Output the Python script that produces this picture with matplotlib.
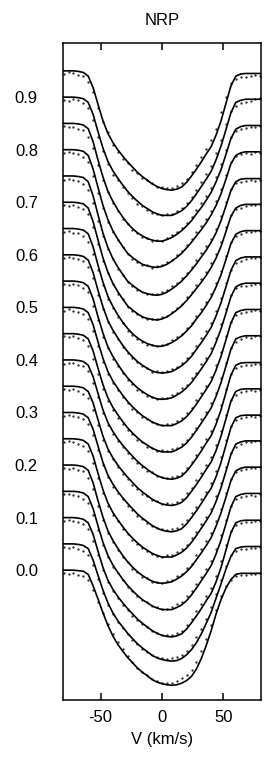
import matplotlib
matplotlib.use("Agg")
import matplotlib.pyplot as plt
import numpy as np

plt.rcParams["font.family"] = ["Liberation Sans", "DejaVu Sans"]

# radial velocity grid (km/s) shared by fits and observed points
VELOCITY = [-80, -76, -72, -68, -64, -60, -56, -52, -48, -44, -40, -36, -32, -28,
            -24, -20, -16, -12, -8, -4, 0, 4, 8, 12, 16, 20, 24, 28, 32, 36, 40,
            44, 48, 52, 56, 60, 64, 68, 72, 76, 80]

# pulsation phase = vertical offset of each profile's continuum
PHASES = [0.95, 0.90, 0.85, 0.80, 0.75, 0.70, 0.65, 0.60, 0.55, 0.50,
          0.45, 0.40, 0.35, 0.30, 0.25, 0.20, 0.15, 0.10, 0.05, 0.00]

YTICKS = [0.0, 0.1, 0.2, 0.3, 0.4, 0.5, 0.6, 0.7, 0.8, 0.9]
XTICKS = [-50, 0, 50]

# NRP model fits (normalised flux)
fit_95 = [1.000, 1.000, 1.000, 0.999, 0.997, 0.990, 0.968, 0.936, 0.905, 0.881, 0.864, 0.850, 0.838, 0.827, 0.817, 0.807, 0.799, 0.792, 0.785, 0.780, 0.776, 0.774, 0.773, 0.775, 0.779, 0.788, 0.800, 0.813, 0.827, 0.842, 0.856, 0.878, 0.905, 0.938, 0.971, 0.990, 0.994, 0.995, 0.995, 0.995, 0.995]
fit_90 = [1.000, 1.000, 1.000, 0.999, 0.997, 0.990, 0.967, 0.934, 0.903, 0.878, 0.860, 0.846, 0.833, 0.821, 0.811, 0.802, 0.794, 0.788, 0.782, 0.778, 0.775, 0.775, 0.775, 0.779, 0.784, 0.792, 0.803, 0.816, 0.830, 0.844, 0.859, 0.881, 0.907, 0.938, 0.970, 0.990, 0.994, 0.996, 0.996, 0.996, 0.996]
fit_85 = [1.000, 1.000, 1.000, 0.999, 0.997, 0.990, 0.965, 0.930, 0.898, 0.871, 0.852, 0.836, 0.822, 0.810, 0.800, 0.792, 0.786, 0.781, 0.778, 0.776, 0.776, 0.779, 0.783, 0.789, 0.796, 0.805, 0.815, 0.828, 0.840, 0.854, 0.869, 0.889, 0.912, 0.941, 0.971, 0.989, 0.994, 0.996, 0.996, 0.996, 0.996]
fit_80 = [1.000, 1.000, 1.000, 0.999, 0.997, 0.989, 0.963, 0.928, 0.894, 0.867, 0.846, 0.830, 0.816, 0.803, 0.795, 0.788, 0.782, 0.779, 0.777, 0.776, 0.778, 0.782, 0.788, 0.795, 0.803, 0.813, 0.824, 0.836, 0.848, 0.861, 0.876, 0.894, 0.916, 0.944, 0.973, 0.989, 0.994, 0.996, 0.996, 0.996, 0.996]
fit_75 = [1.000, 1.000, 1.000, 0.999, 0.997, 0.989, 0.962, 0.926, 0.891, 0.864, 0.843, 0.827, 0.813, 0.800, 0.792, 0.785, 0.779, 0.776, 0.774, 0.773, 0.775, 0.779, 0.785, 0.792, 0.800, 0.810, 0.821, 0.833, 0.846, 0.859, 0.874, 0.892, 0.915, 0.943, 0.972, 0.989, 0.994, 0.995, 0.995, 0.995, 0.995]
fit_70 = [1.000, 1.000, 1.000, 0.999, 0.997, 0.989, 0.963, 0.928, 0.894, 0.867, 0.846, 0.830, 0.816, 0.803, 0.795, 0.788, 0.782, 0.779, 0.777, 0.776, 0.778, 0.782, 0.788, 0.795, 0.803, 0.813, 0.824, 0.836, 0.848, 0.861, 0.876, 0.894, 0.916, 0.944, 0.973, 0.989, 0.994, 0.996, 0.996, 0.996, 0.996]
fit_65 = [1.000, 1.000, 1.000, 0.999, 0.997, 0.990, 0.965, 0.930, 0.898, 0.871, 0.852, 0.836, 0.822, 0.810, 0.800, 0.792, 0.786, 0.781, 0.778, 0.776, 0.776, 0.779, 0.783, 0.789, 0.796, 0.805, 0.815, 0.828, 0.840, 0.854, 0.869, 0.889, 0.912, 0.941, 0.971, 0.989, 0.994, 0.996, 0.996, 0.996, 0.996]
fit_60 = [1.000, 1.000, 1.000, 0.999, 0.997, 0.990, 0.966, 0.932, 0.901, 0.875, 0.857, 0.842, 0.828, 0.816, 0.806, 0.797, 0.790, 0.784, 0.779, 0.776, 0.775, 0.776, 0.778, 0.783, 0.789, 0.797, 0.807, 0.820, 0.833, 0.847, 0.862, 0.884, 0.909, 0.939, 0.970, 0.989, 0.994, 0.996, 0.996, 0.996, 0.996]
fit_55 = [1.000, 1.000, 1.000, 0.999, 0.997, 0.990, 0.966, 0.932, 0.901, 0.875, 0.857, 0.842, 0.828, 0.816, 0.806, 0.797, 0.790, 0.784, 0.779, 0.776, 0.775, 0.776, 0.778, 0.783, 0.789, 0.797, 0.807, 0.820, 0.833, 0.847, 0.862, 0.884, 0.909, 0.939, 0.970, 0.989, 0.994, 0.996, 0.996, 0.996, 0.996]
fit_50 = [1.000, 1.000, 1.000, 0.999, 0.997, 0.990, 0.967, 0.934, 0.903, 0.878, 0.860, 0.846, 0.833, 0.821, 0.811, 0.802, 0.794, 0.788, 0.782, 0.778, 0.775, 0.775, 0.775, 0.779, 0.784, 0.792, 0.803, 0.816, 0.830, 0.844, 0.859, 0.881, 0.907, 0.938, 0.970, 0.990, 0.994, 0.996, 0.996, 0.996, 0.996]
fit_45 = [1.000, 1.000, 1.000, 0.999, 0.997, 0.990, 0.967, 0.934, 0.903, 0.878, 0.860, 0.846, 0.833, 0.821, 0.811, 0.802, 0.794, 0.788, 0.782, 0.778, 0.775, 0.775, 0.775, 0.779, 0.784, 0.792, 0.803, 0.816, 0.830, 0.844, 0.859, 0.881, 0.907, 0.938, 0.970, 0.990, 0.994, 0.996, 0.996, 0.996, 0.996]
fit_40 = [1.000, 1.000, 1.000, 0.999, 0.997, 0.990, 0.968, 0.936, 0.905, 0.881, 0.864, 0.850, 0.838, 0.827, 0.817, 0.807, 0.799, 0.792, 0.785, 0.780, 0.776, 0.774, 0.773, 0.775, 0.779, 0.788, 0.800, 0.813, 0.827, 0.842, 0.856, 0.878, 0.905, 0.938, 0.971, 0.990, 0.994, 0.995, 0.995, 0.995, 0.995]
fit_35 = [1.000, 1.000, 1.000, 0.999, 0.997, 0.990, 0.968, 0.936, 0.905, 0.881, 0.864, 0.850, 0.838, 0.827, 0.817, 0.807, 0.799, 0.792, 0.785, 0.780, 0.776, 0.774, 0.773, 0.775, 0.779, 0.788, 0.800, 0.813, 0.827, 0.842, 0.856, 0.878, 0.905, 0.938, 0.971, 0.990, 0.994, 0.995, 0.995, 0.995, 0.995]
fit_30 = [1.000, 1.000, 1.000, 0.999, 0.997, 0.990, 0.968, 0.936, 0.905, 0.881, 0.864, 0.850, 0.838, 0.827, 0.817, 0.807, 0.799, 0.792, 0.785, 0.780, 0.776, 0.774, 0.773, 0.775, 0.779, 0.788, 0.800, 0.813, 0.827, 0.842, 0.856, 0.878, 0.905, 0.938, 0.971, 0.990, 0.994, 0.995, 0.995, 0.995, 0.995]
fit_25 = [1.000, 1.000, 1.000, 0.999, 0.997, 0.990, 0.967, 0.934, 0.903, 0.878, 0.860, 0.846, 0.833, 0.821, 0.811, 0.802, 0.794, 0.788, 0.782, 0.778, 0.775, 0.775, 0.775, 0.779, 0.784, 0.792, 0.803, 0.816, 0.830, 0.844, 0.859, 0.881, 0.907, 0.938, 0.970, 0.990, 0.994, 0.996, 0.996, 0.996, 0.996]
fit_20 = [1.000, 1.000, 1.000, 0.999, 0.997, 0.990, 0.966, 0.932, 0.901, 0.875, 0.857, 0.842, 0.828, 0.816, 0.806, 0.797, 0.790, 0.784, 0.779, 0.776, 0.775, 0.776, 0.778, 0.783, 0.789, 0.797, 0.807, 0.820, 0.833, 0.847, 0.862, 0.884, 0.909, 0.939, 0.970, 0.989, 0.994, 0.996, 0.996, 0.996, 0.996]
fit_15 = [1.000, 1.000, 1.000, 0.999, 0.997, 0.990, 0.967, 0.934, 0.903, 0.878, 0.860, 0.846, 0.833, 0.821, 0.811, 0.802, 0.794, 0.788, 0.782, 0.778, 0.775, 0.775, 0.775, 0.779, 0.784, 0.792, 0.803, 0.816, 0.830, 0.844, 0.859, 0.881, 0.907, 0.938, 0.970, 0.990, 0.994, 0.996, 0.996, 0.996, 0.996]
fit_10 = [1.000, 1.000, 1.000, 0.999, 0.997, 0.990, 0.968, 0.936, 0.905, 0.881, 0.864, 0.850, 0.838, 0.827, 0.817, 0.807, 0.799, 0.792, 0.785, 0.780, 0.776, 0.774, 0.773, 0.775, 0.779, 0.788, 0.800, 0.813, 0.827, 0.842, 0.856, 0.878, 0.905, 0.938, 0.971, 0.990, 0.994, 0.995, 0.995, 0.995, 0.995]
fit_05 = [1.000, 1.000, 1.000, 0.999, 0.997, 0.991, 0.969, 0.940, 0.912, 0.888, 0.869, 0.854, 0.842, 0.830, 0.820, 0.810, 0.802, 0.795, 0.788, 0.783, 0.780, 0.778, 0.777, 0.778, 0.782, 0.789, 0.799, 0.812, 0.829, 0.849, 0.870, 0.897, 0.924, 0.952, 0.976, 0.991, 0.994, 0.995, 0.995, 0.995, 0.995]
fit_00 = [1.000, 1.000, 1.000, 0.999, 0.998, 0.992, 0.970, 0.945, 0.919, 0.895, 0.875, 0.859, 0.846, 0.834, 0.824, 0.814, 0.806, 0.799, 0.792, 0.787, 0.784, 0.782, 0.781, 0.782, 0.785, 0.790, 0.798, 0.812, 0.832, 0.857, 0.885, 0.917, 0.944, 0.966, 0.982, 0.992, 0.994, 0.994, 0.994, 0.994, 0.994]

# observed line profiles (normalised flux)
obs_95 = [0.994, 0.997, 0.996, 0.993, 0.990, 0.978, 0.960, 0.930, 0.903, 0.883, 0.858, 0.846, 0.833, 0.825, 0.812, 0.806, 0.796, 0.793, 0.787, 0.779, 0.779, 0.778, 0.777, 0.781, 0.786, 0.795, 0.808, 0.821, 0.836, 0.851, 0.868, 0.890, 0.921, 0.951, 0.976, 0.984, 0.988, 0.989, 0.990, 0.993, 0.991]
obs_90 = [0.995, 0.993, 0.996, 0.994, 0.989, 0.980, 0.957, 0.925, 0.898, 0.873, 0.852, 0.843, 0.829, 0.818, 0.808, 0.797, 0.792, 0.786, 0.780, 0.777, 0.776, 0.778, 0.777, 0.783, 0.789, 0.799, 0.810, 0.823, 0.838, 0.853, 0.869, 0.894, 0.918, 0.948, 0.973, 0.983, 0.988, 0.991, 0.993, 0.996, 0.999]
obs_85 = [0.996, 0.993, 0.994, 0.990, 0.987, 0.975, 0.953, 0.920, 0.892, 0.869, 0.849, 0.834, 0.818, 0.808, 0.797, 0.791, 0.784, 0.782, 0.776, 0.779, 0.777, 0.782, 0.787, 0.793, 0.801, 0.810, 0.822, 0.835, 0.848, 0.862, 0.878, 0.899, 0.923, 0.950, 0.975, 0.985, 0.990, 0.992, 0.994, 0.993, 0.995]
obs_80 = [0.994, 0.996, 0.993, 0.992, 0.986, 0.976, 0.950, 0.918, 0.890, 0.862, 0.843, 0.828, 0.814, 0.802, 0.792, 0.786, 0.780, 0.780, 0.775, 0.778, 0.780, 0.786, 0.791, 0.799, 0.808, 0.818, 0.830, 0.843, 0.855, 0.869, 0.883, 0.902, 0.925, 0.952, 0.977, 0.988, 0.991, 0.993, 0.992, 0.995, 0.994]
obs_75 = [0.993, 0.995, 0.992, 0.990, 0.985, 0.974, 0.948, 0.915, 0.886, 0.861, 0.842, 0.823, 0.811, 0.798, 0.790, 0.783, 0.779, 0.775, 0.776, 0.775, 0.779, 0.783, 0.790, 0.797, 0.806, 0.816, 0.827, 0.840, 0.853, 0.866, 0.881, 0.900, 0.924, 0.950, 0.976, 0.986, 0.989, 0.990, 0.992, 0.991, 0.993]
obs_70 = [0.995, 0.993, 0.995, 0.991, 0.988, 0.977, 0.952, 0.921, 0.889, 0.865, 0.844, 0.826, 0.815, 0.801, 0.793, 0.787, 0.781, 0.777, 0.778, 0.777, 0.781, 0.784, 0.792, 0.798, 0.807, 0.819, 0.829, 0.842, 0.854, 0.867, 0.884, 0.901, 0.924, 0.953, 0.976, 0.987, 0.990, 0.993, 0.995, 0.994, 0.996]
obs_65 = [0.994, 0.995, 0.992, 0.991, 0.986, 0.975, 0.951, 0.922, 0.893, 0.866, 0.849, 0.831, 0.820, 0.806, 0.798, 0.789, 0.785, 0.779, 0.779, 0.777, 0.779, 0.781, 0.787, 0.793, 0.800, 0.811, 0.820, 0.834, 0.846, 0.860, 0.876, 0.897, 0.920, 0.948, 0.974, 0.986, 0.990, 0.993, 0.994, 0.996, 0.995]
obs_60 = [0.993, 0.995, 0.994, 0.992, 0.988, 0.977, 0.955, 0.924, 0.896, 0.872, 0.853, 0.840, 0.824, 0.814, 0.803, 0.796, 0.788, 0.785, 0.777, 0.778, 0.777, 0.779, 0.782, 0.787, 0.795, 0.803, 0.814, 0.827, 0.841, 0.855, 0.871, 0.893, 0.918, 0.946, 0.972, 0.985, 0.989, 0.992, 0.994, 0.993, 0.996]
obs_55 = [0.995, 0.992, 0.995, 0.993, 0.987, 0.979, 0.953, 0.926, 0.894, 0.873, 0.851, 0.838, 0.826, 0.811, 0.804, 0.793, 0.789, 0.781, 0.780, 0.775, 0.778, 0.778, 0.784, 0.788, 0.796, 0.802, 0.815, 0.826, 0.842, 0.854, 0.872, 0.891, 0.919, 0.947, 0.974, 0.986, 0.991, 0.990, 0.993, 0.995, 0.994]
obs_50 = [0.994, 0.996, 0.993, 0.991, 0.988, 0.978, 0.956, 0.926, 0.897, 0.874, 0.856, 0.842, 0.830, 0.819, 0.807, 0.800, 0.791, 0.787, 0.781, 0.779, 0.777, 0.778, 0.779, 0.784, 0.790, 0.799, 0.809, 0.823, 0.837, 0.851, 0.867, 0.890, 0.915, 0.945, 0.972, 0.986, 0.990, 0.992, 0.994, 0.995, 0.993]
obs_45 = [0.995, 0.994, 0.996, 0.992, 0.987, 0.976, 0.952, 0.923, 0.895, 0.871, 0.855, 0.840, 0.829, 0.816, 0.809, 0.798, 0.793, 0.785, 0.783, 0.777, 0.778, 0.776, 0.780, 0.783, 0.791, 0.797, 0.810, 0.821, 0.838, 0.850, 0.868, 0.888, 0.916, 0.944, 0.973, 0.985, 0.989, 0.993, 0.992, 0.995, 0.996]
obs_40 = [0.993, 0.995, 0.994, 0.990, 0.988, 0.979, 0.957, 0.929, 0.899, 0.877, 0.860, 0.845, 0.834, 0.822, 0.814, 0.803, 0.797, 0.789, 0.786, 0.779, 0.778, 0.775, 0.777, 0.779, 0.785, 0.794, 0.806, 0.819, 0.834, 0.849, 0.864, 0.887, 0.914, 0.945, 0.973, 0.985, 0.988, 0.991, 0.990, 0.993, 0.992]
obs_35 = [0.995, 0.993, 0.995, 0.991, 0.986, 0.977, 0.955, 0.927, 0.898, 0.876, 0.861, 0.846, 0.833, 0.824, 0.813, 0.805, 0.795, 0.791, 0.783, 0.781, 0.776, 0.777, 0.776, 0.780, 0.786, 0.796, 0.807, 0.821, 0.835, 0.850, 0.866, 0.889, 0.915, 0.946, 0.974, 0.984, 0.989, 0.990, 0.992, 0.991, 0.993]
obs_30 = [0.994, 0.996, 0.993, 0.992, 0.988, 0.978, 0.958, 0.928, 0.901, 0.878, 0.859, 0.847, 0.835, 0.823, 0.815, 0.804, 0.798, 0.790, 0.784, 0.780, 0.778, 0.776, 0.778, 0.781, 0.787, 0.795, 0.808, 0.820, 0.836, 0.849, 0.865, 0.888, 0.916, 0.947, 0.974, 0.986, 0.990, 0.991, 0.993, 0.992, 0.994]
obs_25 = [0.993, 0.995, 0.994, 0.991, 0.987, 0.977, 0.954, 0.925, 0.896, 0.873, 0.855, 0.843, 0.828, 0.818, 0.808, 0.799, 0.792, 0.786, 0.781, 0.777, 0.776, 0.779, 0.778, 0.784, 0.790, 0.798, 0.811, 0.822, 0.838, 0.852, 0.867, 0.891, 0.916, 0.946, 0.972, 0.985, 0.990, 0.993, 0.994, 0.996, 0.995]
obs_20 = [0.994, 0.993, 0.995, 0.990, 0.988, 0.976, 0.954, 0.923, 0.895, 0.870, 0.854, 0.839, 0.825, 0.815, 0.803, 0.796, 0.787, 0.785, 0.778, 0.778, 0.776, 0.779, 0.781, 0.788, 0.793, 0.804, 0.812, 0.828, 0.840, 0.856, 0.870, 0.894, 0.917, 0.947, 0.973, 0.986, 0.990, 0.992, 0.995, 0.994, 0.996]
obs_15 = [0.995, 0.994, 0.993, 0.992, 0.986, 0.978, 0.955, 0.927, 0.898, 0.875, 0.856, 0.844, 0.831, 0.818, 0.810, 0.800, 0.793, 0.789, 0.781, 0.779, 0.777, 0.777, 0.779, 0.785, 0.789, 0.800, 0.810, 0.824, 0.837, 0.853, 0.868, 0.890, 0.917, 0.945, 0.973, 0.985, 0.989, 0.992, 0.993, 0.992, 0.995]
obs_10 = [0.993, 0.995, 0.994, 0.991, 0.987, 0.978, 0.956, 0.928, 0.900, 0.878, 0.860, 0.848, 0.834, 0.825, 0.813, 0.805, 0.797, 0.791, 0.785, 0.781, 0.777, 0.777, 0.776, 0.781, 0.785, 0.796, 0.807, 0.822, 0.835, 0.851, 0.866, 0.889, 0.917, 0.947, 0.975, 0.986, 0.989, 0.991, 0.992, 0.994, 0.993]
obs_05 = [0.994, 0.992, 0.995, 0.991, 0.987, 0.979, 0.959, 0.933, 0.906, 0.884, 0.866, 0.851, 0.840, 0.829, 0.817, 0.809, 0.800, 0.795, 0.789, 0.784, 0.782, 0.781, 0.782, 0.784, 0.789, 0.797, 0.808, 0.822, 0.839, 0.858, 0.879, 0.905, 0.931, 0.957, 0.978, 0.986, 0.990, 0.991, 0.993, 0.992, 0.994]
obs_00 = [0.995, 0.993, 0.994, 0.990, 0.988, 0.981, 0.962, 0.940, 0.918, 0.897, 0.878, 0.863, 0.850, 0.836, 0.826, 0.813, 0.806, 0.800, 0.793, 0.789, 0.786, 0.785, 0.786, 0.789, 0.794, 0.801, 0.811, 0.826, 0.846, 0.869, 0.896, 0.924, 0.950, 0.969, 0.982, 0.988, 0.990, 0.991, 0.993, 0.992, 0.994]

FITS = [fit_95, fit_90, fit_85, fit_80, fit_75, fit_70, fit_65, fit_60, fit_55, fit_50,
        fit_45, fit_40, fit_35, fit_30, fit_25, fit_20, fit_15, fit_10, fit_05, fit_00]
OBSERVED = [obs_95, obs_90, obs_85, obs_80, obs_75, obs_70, obs_65, obs_60, obs_55, obs_50,
            obs_45, obs_40, obs_35, obs_30, obs_25, obs_20, obs_15, obs_10, obs_05, obs_00]

fig = plt.figure(figsize=(2.65, 7.57), dpi=100)
ax = fig.add_axes([0.2377, 0.0753, 0.7472, 0.8679])

v = np.array(VELOCITY)
for phase, fit, obs in zip(PHASES, FITS, OBSERVED):
    # each profile is shifted so that its continuum sits at its phase
    ax.plot(v, np.array(obs) - 1 + phase, "o", ms=1.7, color="0.2", mec="none")
    ax.plot(v, np.array(fit) - 1 + phase, "-", color="black", lw=1.2)

ax.set_xlim(-80.5, 80.5)
ax.set_ylim(-0.247, 1.003)
ax.set_xticks(XTICKS)
ax.set_xticklabels([str(t) for t in XTICKS])
ax.set_yticks(YTICKS)
ax.set_yticklabels([f"{t:.1f}" for t in YTICKS])
ax.tick_params(axis="x", direction="in", top=True, length=5, width=1.1, pad=7, labelsize=12)
ax.tick_params(axis="y", length=0, pad=18, labelsize=12)
for s in ax.spines.values():
    s.set_linewidth(1.1)

ax.set_title("NRP", fontsize=12, pad=13)
ax.set_xlabel("V (km/s)", fontsize=12, labelpad=5)

fig.savefig("out.png", dpi=100)
